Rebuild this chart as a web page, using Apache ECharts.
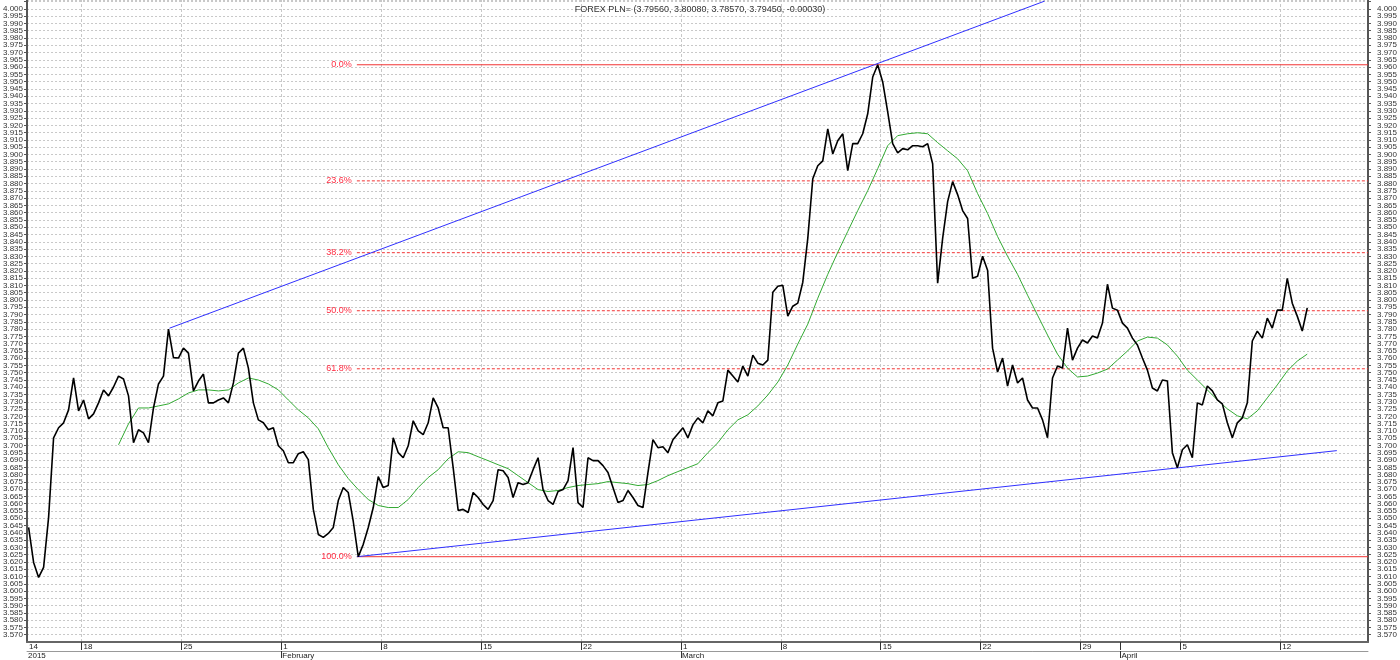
<!DOCTYPE html>
<html><head><meta charset="utf-8">
<script src="https://cdn.jsdelivr.net/npm/echarts@6/dist/echarts.min.js"></script>
<style>html,body{margin:0;padding:0;background:#fff}#c{width:1400px;height:660px}</style>
</head><body><div id="c"></div>
<script>
// time unit: trading days since Mon 12 Jan 2015 00:00 (weekends removed, 5 per week)
const T0 = 2.35, STEP = 0.25;
const price = [
3.6437,3.6197,3.6094,3.6163,3.6506,3.7053,3.7122,3.7156,3.7245,3.7464,
3.7238,3.7313,3.7183,3.7217,3.7293,3.7382,3.7341,3.7402,3.7477,3.7457,
3.7341,3.7019,3.7108,3.7087,3.7019,3.7258,3.7423,3.7477,3.7800,3.7604,
3.7601,3.7669,3.7635,3.7375,3.7443,3.7491,3.7293,3.7293,3.7313,3.7327,
3.7293,3.7430,3.7635,3.7669,3.7532,3.7293,3.7176,3.7156,3.7108,3.7122,
3.6998,3.6964,3.6882,3.6882,3.6944,3.6957,3.6903,3.6561,3.6389,3.6369,
3.6396,3.6437,3.6622,3.6711,3.6677,3.6478,3.6236,3.6321,3.6437,3.6574,
3.6786,3.6711,3.6725,3.7053,3.6951,3.6916,3.6998,3.7170,3.7101,3.7074,
3.7156,3.7327,3.7258,3.7122,3.7122,3.6848,3.6554,3.6561,3.6540,3.6677,
3.6643,3.6595,3.6561,3.6622,3.6834,3.6827,3.6780,3.6643,3.6745,3.6732,
3.6745,3.6834,3.6916,3.6697,3.6622,3.6595,3.6684,3.6697,3.6759,3.6985,
3.6608,3.6574,3.6916,3.6896,3.6896,3.6862,3.6814,3.6711,3.6608,3.6622,
3.6691,3.6643,3.6588,3.6574,3.6814,3.7040,3.6985,3.6992,3.6951,3.7040,
3.7081,3.7122,3.7053,3.7142,3.7190,3.7156,3.7238,3.7204,3.7293,3.7306,
3.7518,3.7477,3.7436,3.7546,3.7477,3.7621,3.7566,3.7553,3.7587,3.8053,
3.8094,3.8101,3.7889,3.7957,3.7978,3.8122,3.8423,3.8833,3.8922,3.8956,
3.9176,3.9004,3.9094,3.9142,3.8888,3.9074,3.9074,3.9142,3.9279,3.9532,
3.9616,3.9498,3.9293,3.9074,3.9011,3.9040,3.9032,3.9060,3.9060,3.9053,
3.9074,3.8936,3.8115,3.8423,3.8676,3.8813,3.8724,3.8614,3.8560,3.8149,
3.8163,3.8300,3.8204,3.7669,3.7505,3.7601,3.7409,3.7553,3.7430,3.7464,
3.7313,3.7258,3.7258,3.7176,3.7053,3.7464,3.7546,3.7532,3.7807,3.7587,
3.7669,3.7725,3.7704,3.7752,3.7738,3.7841,3.8108,3.7944,3.7930,3.7841,
3.7807,3.7738,3.7691,3.7601,3.7518,3.7395,3.7375,3.7450,3.7443,3.6951,
3.6847,3.6971,3.7005,3.6916,3.7293,3.7279,3.7409,3.7375,3.7313,3.7286,
3.7156,3.7053,3.7156,3.7190,3.7293,3.7718,3.7786,3.7738,3.7875,3.7807,
3.7930,3.7930,3.8149,3.7978,3.7889,3.7786,3.7945
];
const MA_T0 = 6.85, MA_STEP = 0.5;
const ma = [
3.7005,3.7149,3.7258,3.7258,3.7272,3.7286,3.7320,3.7361,3.7382,3.7382,
3.7375,3.7382,3.7430,3.7464,3.7450,3.7423,3.7382,3.7313,3.7245,3.7190,
3.7115,3.6985,3.6868,3.6773,3.6697,3.6629,3.6588,3.6574,3.6574,3.6629,
3.6711,3.6780,3.6834,3.6909,3.6957,3.6951,3.6923,3.6896,3.6868,3.6841,
3.6793,3.6745,3.6697,3.6684,3.6691,3.6711,3.6725,3.6732,3.6738,3.6752,
3.6745,3.6738,3.6725,3.6732,3.6759,3.6793,3.6821,3.6848,3.6875,3.6951,
3.7019,3.7108,3.7176,3.7211,3.7272,3.7347,3.7436,3.7553,3.7697,3.7834,
3.8012,3.8176,3.8327,3.8471,3.8614,3.8751,3.8902,3.9060,3.9129,3.9142,
3.9149,3.9142,3.9081,3.9025,3.8970,3.8888,3.8731,3.8594,3.8436,3.8300,
3.8176,3.8033,3.7896,3.7759,3.7628,3.7532,3.7471,3.7477,3.7498,3.7525,
3.7587,3.7649,3.7718,3.7745,3.7738,3.7691,3.7614,3.7518,3.7450,3.7382,
3.7313,3.7252,3.7204,3.7183,3.7238,3.7327,3.7416,3.7512,3.7580,3.7628
];
const X_MIN = 2.27, X_MAX = 69.39;
const firstDayLabel = '14', yearLabel = '2015';
const weekStarts = [5,10,15,20,25,30,35,40,45,50,55,60,65];
const weekLabels = ['18','25','1','8','15','22','1','8','15','22','29','5','12'];
const monthStarts = [15,35,57];
const monthLabels = ['February','March','April'];
const Y_MIN = 3.565, Y_MAX = 4.0061, Y_STEP = 0.005;
const Y_LABEL_MIN = 3.570, Y_LABEL_MAX = 4.000;
const fibHigh = 3.9616, fibLow = 3.6236, fibStart = 18.78;
const fibLevels = [0, 0.236, 0.382, 0.5, 0.618, 1];
const fibNames = ['0.0%','23.6%','38.2%','50.0%','61.8%','100.0%'];
const upperTrend = [[9.40, 3.7806],[44.68, 3.9616]], upperEnd = 53.2;
const lowerTrend = [[18.78, 3.6236],[59.90, 3.6847]], lowerEnd = 67.83;
const titleText = 'FOREX PLN= (3.79560, 3.80080, 3.78570, 3.79450, -0.00030)';

const FONT = 'Liberation Sans, Arial, sans-serif';
const RED_LINE = '#f23434', RED_TEXT = '#ff2a40';
const priceData = price.map((v,i)=>[T0+STEP*i, v]);
const maData = ma.map((v,i)=>[MA_T0+MA_STEP*i, v]);
function extendLine(a,b,tEnd){
  const v = a[1] + (b[1]-a[1])*(tEnd-a[0])/(b[0]-a[0]);
  return [a, b, [tEnd, v]];
}
const fibValue = i => fibHigh - (fibHigh-fibLow)*fibLevels[i];
const fibSeries = fibLevels.map((lvl, i) => ({
  type:'line', name:'fib ' + fibNames[i], silent:true, z:1, showSymbol:false, symbol:'none',
  color: RED_LINE,
  data: [[fibStart, fibValue(i)], [X_MAX, fibValue(i)]],
  lineStyle:{color: RED_LINE, width:1, type: (lvl === 0 || lvl === 1) ? 'solid' : [3,2]}
}));
// fibonacci labels drawn as markPoints (text only) at the left end of each level
const fibLabelSeries = {
  type:'line', name:'fibLabels', data:[], silent:true, z:5,
  markPoint:{silent:true, animation:false, symbol:'circle', symbolSize:0,
    itemStyle:{color:'transparent'},
    label:{show:true, position:'left', distance:5, formatter: p => p.name,
      color: RED_TEXT, fontSize:9, fontFamily: FONT, opacity:1, textBorderWidth:0},
    data: fibLevels.map((_, i) => ({name: fibNames[i], coord:[fibStart, fibValue(i)]}))}
};
const dayLabel = v => {
  if (Math.abs(v - X_MIN) < 1e-6) return firstDayLabel;
  const i = weekStarts.indexOf(v); return i >= 0 ? weekLabels[i] : '';
};
const monLabel = v => {
  if (Math.abs(v - X_MIN) < 1e-6) return yearLabel;
  const i = monthStarts.indexOf(v); return i >= 0 ? monthLabels[i] : '';
};
const yAxisBase = (pos, margin) => ({
  type:'value', position: pos, min:Y_MIN, max:Y_MAX, interval:Y_STEP, scale:true,
  axisLine:{show:true, onZero:false, lineStyle:{color:'#555', width:2}},
  axisTick:{show:true, length:3, lineStyle:{color:'#555'}},
  axisLabel:{fontSize:8, color:'#333', margin: margin, fontFamily:FONT,
    showMinLabel:false, showMaxLabel:false,
    formatter: v => (v < Y_LABEL_MIN - 1e-6 || v > Y_LABEL_MAX + 1e-6) ? '' : v.toFixed(3)},
  splitLine:{show: pos==='left', lineStyle:{color:'#c8c8c8', type:[2,2], width:1}}
});

const chart = echarts.init(document.getElementById('c'), null, {renderer:'canvas'});
chart.setOption({
  animation:false,
  backgroundColor:'#fff',
  title:{text:titleText, left:'center', top:0, textStyle:{fontSize:9, fontWeight:'normal', color:'#333', fontFamily:FONT}},
  grid:{left:27, right:27, top:0, bottom:16, containLabel:false},
  xAxis:[
    {type:'value', min:X_MIN, max:X_MAX, position:'bottom',
     axisLine:{show:true, onZero:false, lineStyle:{color:'#666', width:2}},
     axisTick:{show:true, customValues:[...weekStarts, ...monthStarts], length:8, lineStyle:{color:'#333', width:1}},
     axisLabel:{customValues:[X_MIN, ...weekStarts], formatter: dayLabel, align:'left', margin:1,
       padding:[0,0,0,2], fontSize:8, color:'#222', verticalAlign:'top', fontFamily:FONT},
     splitLine:{show:false}},
    {type:'value', min:X_MIN, max:X_MAX, position:'bottom', offset:9,
     axisLine:{show:true, onZero:false, lineStyle:{color:'#999', width:1}},
     axisTick:{show:true, customValues:[...monthStarts], length:7, lineStyle:{color:'#333', width:1}},
     axisLabel:{customValues:[X_MIN, ...monthStarts], formatter: monLabel, align:'left', margin:1,
       padding:[0,0,0,1], fontSize:8, color:'#222', verticalAlign:'top', fontFamily:FONT},
     splitLine:{show:false}}
  ],
  yAxis:[yAxisBase('left',4), yAxisBase('right',9)],
  series:[
    {type:'line', name:'vgrid', data:[], z:0, silent:true,
     markLine:{silent:true, symbol:['none','none'], animation:false, z:0, label:{show:false},
       lineStyle:{color:'#c8c8c8', type:[3,2], width:1},
       data: weekStarts.map(t=>({xAxis:t}))}},
    ...fibSeries,
    fibLabelSeries,
    {type:'line', name:'upper', data: extendLine(upperTrend[0], upperTrend[1], upperEnd), showSymbol:false, silent:true, z:2,
     lineStyle:{color:'#3030ff', width:1}},
    {type:'line', name:'lower', data: extendLine(lowerTrend[0], lowerTrend[1], lowerEnd), showSymbol:false, silent:true, z:2,
     lineStyle:{color:'#3030ff', width:1}},
    {type:'line', name:'MA', data: maData, showSymbol:false, silent:true, z:3,
     lineStyle:{color:'#33aa33', width:1}},
    {type:'line', name:'FOREX PLN=', data: priceData, showSymbol:false, silent:true, z:4,
     lineStyle:{color:'#000', width:1.6}}
  ]
});
</script></body></html>
